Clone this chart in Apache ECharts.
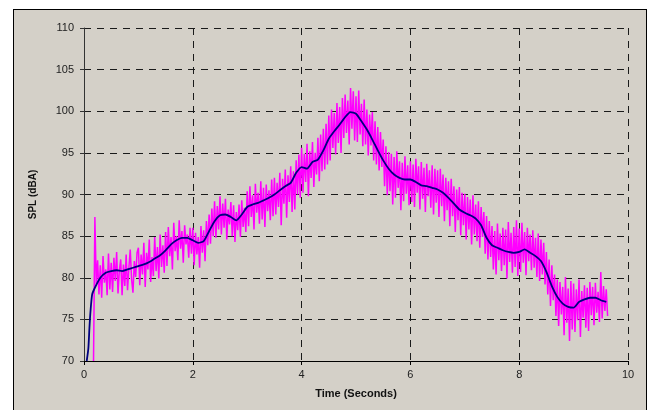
<!DOCTYPE html>
<html>
<head>
<meta charset="utf-8">
<script src="https://cdn.jsdelivr.net/npm/echarts@6/dist/echarts.min.js"></script>
<style>
html,body{margin:0;padding:0;background:#fff;width:648px;height:410px;overflow:hidden;}
#frame{position:absolute;left:13px;top:9px;width:632px;height:420px;border:1px solid #000;background:#D4D0C8;}
#chart{position:absolute;left:0;top:0;width:648px;height:410px;}
</style>
</head>
<body>
<div id="frame"></div>
<div id="chart"></div>
<script>
// X axis ticks and Y axis ticks
const xTicks = [0, 2, 4, 6, 8, 10];
const yTicks = [70, 75, 80, 85, 90, 95, 100, 105, 110];

// Smoothed SPL (navy line)
const smoothTimes = [0.05,0.08,0.10,0.12,0.15,0.2,0.3,0.4,0.5,0.6,0.7,0.8,0.9,1.0,1.1,1.2,1.3,1.4,1.5,1.6,1.7,1.8,1.9,2.0,2.1,2.2,2.3,2.4,2.5,2.6,2.7,2.8,2.9,3.0,3.1,3.2,3.3,3.4,3.5,3.6,3.7,3.8,3.9,4.0,4.1,4.2,4.3,4.4,4.5,4.6,4.7,4.8,4.9,5.0,5.1,5.2,5.3,5.4,5.5,5.6,5.7,5.8,5.9,6.0,6.1,6.2,6.3,6.4,6.5,6.6,6.7,6.8,6.9,7.0,7.1,7.2,7.3,7.4,7.5,7.6,7.7,7.8,7.9,8.0,8.1,8.2,8.3,8.4,8.5,8.6,8.7,8.8,8.9,9.0,9.1,9.2,9.3,9.4,9.5,9.6];
const smoothSPL = [70,71.5,74,76,78,78.8,80,80.6,80.8,80.9,80.8,81.0,81.2,81.4,81.6,81.9,82.3,82.7,83.3,84.0,84.5,84.8,84.8,84.5,84.2,84.4,85.6,86.8,87.5,87.6,87.3,86.9,87.6,88.5,88.8,89.0,89.3,89.6,90.0,90.5,91.0,91.4,92.6,93.3,93.1,93.9,94.2,95.3,96.7,97.6,98.4,99.3,99.9,99.7,98.8,97.8,96.6,95.3,94.1,93.1,92.4,92.0,91.8,91.8,91.5,91.1,91.0,90.8,90.6,90.2,89.6,88.9,88.2,87.8,87.5,87.1,86.3,84.8,83.9,83.6,83.3,83.1,83.0,83.1,83.4,83.0,82.6,82.0,80.7,79.0,77.7,76.9,76.5,76.4,77.1,77.4,77.6,77.6,77.3,77.1];

// Raw SPL (magenta), sampled every 0.025 s from 0.175 s
const rawStart = 0.175;
const rawStep = 0.025;
const rawSPL = [70,
87.3,79.2,82.1,78.0,81.5,77.6,82.6,79.4,81.0,77.9,82.9,78.6,
81.8,78.3,82.4,79.6,83.1,78.1,80.9,82.2,77.9,81.6,79.0,82.8,78.5,81.2,83.4,79.8,78.2,82.0,80.1,83.0,
83.6,79.1,82.8,80.4,84.2,78.9,83.0,81.0,84.6,79.5,82.5,80.2,84.9,80.8,83.7,79.9,85.2,81.3,83.9,80.6,
85.5,81.4,86.1,82.6,84.9,81.0,86.6,83.2,85.0,82.1,86.9,83.5,85.6,81.8,86.3,84.0,85.2,82.4,86.0,82.9,
86.0,81.5,85.4,82.8,84.9,81.2,86.2,83.0,85.7,82.0,86.8,83.9,87.6,84.1,88.3,85.0,89.2,84.8,88.6,85.8,
89.8,85.2,88.9,86.0,89.5,84.6,88.2,86.4,89.1,85.0,88.7,84.3,87.9,85.7,88.8,84.9,89.3,86.1,88.4,85.5,
90.4,86.2,91.0,87.3,89.9,85.8,91.3,87.8,90.2,86.5,91.6,87.0,90.8,86.1,91.2,88.0,90.5,86.9,91.8,87.4,
92.0,87.6,91.4,88.5,92.6,86.3,91.9,88.9,93.0,87.2,92.3,89.1,93.4,87.9,92.8,88.2,94.1,90.0,94.8,89.6,
95.6,90.2,94.9,91.5,96.1,89.8,95.2,92.0,96.3,90.9,95.0,92.4,96.8,91.6,97.2,92.8,97.9,93.0,98.5,93.6,
99.5,94.1,100.2,95.6,99.8,94.8,101.0,96.2,100.5,95.0,101.6,96.8,102.0,97.4,101.3,96.0,102.8,97.9,102.4,96.5,
101.8,96.3,102.5,97.2,100.9,95.8,101.4,96.0,100.2,94.7,99.6,95.9,99.9,94.1,98.8,93.6,98.1,92.9,97.5,93.3,
96.6,91.0,95.8,89.9,95.1,90.4,94.9,88.8,94.5,89.6,95.2,90.8,94.0,88.1,93.8,89.2,94.6,90.1,93.5,88.7,
94.0,89.1,93.6,88.5,94.3,90.2,93.4,88.2,93.9,89.5,93.2,87.9,93.7,89.8,92.9,88.4,93.5,87.6,93.1,89.0,
92.9,87.3,93.1,88.6,92.4,86.8,92.0,88.1,91.6,86.2,91.9,87.4,91.0,85.5,90.6,86.9,90.9,85.1,90.2,86.3,
90.1,84.6,89.7,85.8,89.4,84.0,89.9,85.2,88.8,84.4,89.2,83.6,88.5,84.9,87.9,82.9,87.4,82.2,86.8,82.5,
86.2,81.0,85.6,80.4,86.5,82.1,85.3,80.8,86.0,81.5,85.8,79.9,86.7,81.9,85.4,80.6,86.1,81.3,86.9,80.2,
85.9,80.7,86.6,81.8,85.5,80.3,86.0,82.0,85.2,80.9,85.7,81.2,84.8,80.1,85.3,79.6,84.6,80.4,84.2,79.2,
83.1,78.0,82.2,76.6,81.5,77.3,80.4,75.4,79.8,74.2,79.5,75.6,78.9,73.1,80.1,74.6,78.7,72.4,79.6,73.8,
79.3,73.5,78.6,74.9,79.8,72.9,78.4,75.2,79.1,74.0,78.8,73.6,79.5,75.5,78.9,74.3,79.4,75.8,78.3,74.7,
80.7,75.1,79.0,76.0,78.6,75.4];

const rawData = rawSPL.map((v, i) => [+(rawStart + i * rawStep).toFixed(3), v]);
const smoothData = smoothTimes.map((t, i) => [t, smoothSPL[i]]);

const chart = echarts.init(document.getElementById('chart'), null, {renderer: 'canvas'});
const font = '"Liberation Sans", Arial, sans-serif';
const dashed = {type: [7, 6], color: '#1a1a1a', width: 1};
chart.setOption({
  animation: false,
  backgroundColor: 'transparent',
  grid: {left: 84, top: 28, width: 544, height: 333, containLabel: false},
  xAxis: {
    type: 'value', min: xTicks[0], max: xTicks[xTicks.length - 1], interval: 2,
    name: 'Time (Seconds)', nameLocation: 'middle', nameGap: 27,
    nameTextStyle: {fontFamily: font, fontSize: 11, fontWeight: 'bold', color: '#111'},
    axisLine: {lineStyle: {color: '#000', width: 1}},
    axisTick: {show: true, length: 4, lineStyle: {color: '#000'}},
    axisLabel: {fontFamily: font, fontSize: 11, color: '#222', margin: 8},
    splitLine: {show: true, lineStyle: dashed}
  },
  yAxis: {
    type: 'value', min: yTicks[0], max: yTicks[yTicks.length - 1], interval: 5,
    name: 'SPL (dBA)', nameLocation: 'middle', nameGap: 46, nameRotate: 90,
    nameTextStyle: {fontFamily: font, fontSize: 10, fontWeight: 'bold', color: '#111'},
    axisLine: {show: true, lineStyle: {color: '#333', width: 1}},
    axisTick: {show: true, length: 4, lineStyle: {color: '#333'}},
    axisLabel: {fontFamily: font, fontSize: 11, color: '#222', margin: 10},
    splitLine: {show: true, lineStyle: dashed}
  },
  series: [
    {type: 'line', data: rawData, showSymbol: false, symbol: 'none',
     lineStyle: {color: '#FF00FF', width: 1.5}, z: 2, clip: true},
    {type: 'line', data: smoothData, showSymbol: false, symbol: 'none', smooth: 0.2,
     lineStyle: {color: '#000080', width: 1.8}, z: 3, clip: true}
  ]
});
</script>
</body>
</html>
